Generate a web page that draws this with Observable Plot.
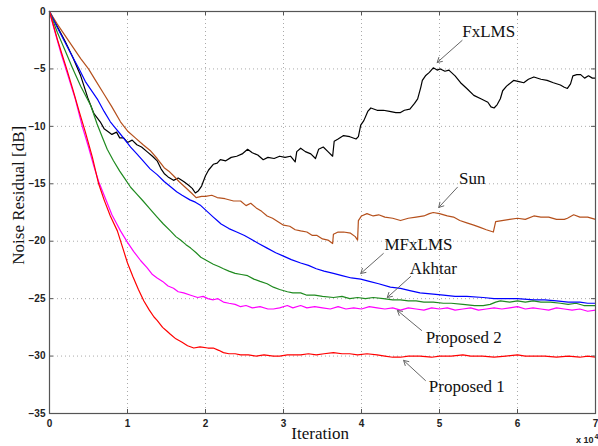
<!DOCTYPE html>
<html><head><meta charset="utf-8">
<script src="https://cdn.jsdelivr.net/npm/d3@7"></script>
<script src="https://cdn.jsdelivr.net/npm/@observablehq/plot@0.6"></script>
<style>body{margin:0;background:#fff} svg{display:block}</style>
</head><body><div id="chart"></div>
<script>
// Iteration (x 10^4) and noise residual (dB)
const fxlms = [[0,0],[0.1,-1.3],[0.2,-2.6],[0.3,-4.0],[0.4,-5.6],[0.49,-7.5],[0.57,-8.9],[0.65,-9.6],[0.7,-10.2],[0.74,-10.4],[0.8,-10.7],[0.86,-10.5],[0.9,-11.0],[0.95,-11.0],[1.0,-11.4],[1.06,-11.2],[1.12,-11.6],[1.18,-11.8],[1.25,-12.2],[1.32,-12.6],[1.38,-13.0],[1.43,-13.7],[1.47,-14.1],[1.52,-14.4],[1.59,-14.7],[1.65,-14.5],[1.72,-14.8],[1.78,-15.1],[1.83,-15.4],[1.87,-15.8],[1.91,-15.6],[1.95,-15.2],[2.0,-14.3],[2.04,-13.8],[2.1,-13.3],[2.15,-13.2],[2.19,-12.9],[2.26,-13.0],[2.33,-12.7],[2.4,-12.6],[2.47,-12.4],[2.54,-12.0],[2.6,-12.3],[2.67,-12.5],[2.74,-12.9],[2.8,-12.7],[2.88,-12.8],[2.95,-12.6],[3.02,-12.7],[3.09,-12.6],[3.15,-13.1],[3.17,-12.2],[3.22,-11.9],[3.28,-12.2],[3.35,-12.4],[3.41,-12.8],[3.45,-12.0],[3.51,-11.8],[3.57,-12.2],[3.63,-12.6],[3.65,-11.3],[3.7,-11.1],[3.77,-10.8],[3.85,-10.9],[3.93,-11.1],[3.96,-10.9],[3.99,-9.9],[4.03,-9.5],[4.08,-8.7],[4.12,-8.4],[4.2,-8.6],[4.28,-8.6],[4.36,-8.7],[4.44,-8.8],[4.5,-8.8],[4.55,-8.6],[4.62,-8.5],[4.68,-8.0],[4.72,-7.6],[4.76,-6.6],[4.78,-6.0],[4.82,-5.6],[4.87,-5.3],[4.92,-4.9],[4.97,-5.1],[5.01,-5.0],[5.07,-5.2],[5.12,-5.1],[5.2,-5.6],[5.27,-6.2],[5.35,-6.7],[5.44,-7.3],[5.53,-7.6],[5.62,-7.9],[5.66,-8.3],[5.7,-8.4],[5.74,-8.1],[5.78,-7.6],[5.81,-6.9],[5.86,-6.5],[5.95,-6.0],[6.02,-6.1],[6.08,-6.2],[6.14,-5.9],[6.21,-5.7],[6.3,-5.9],[6.38,-6.0],[6.46,-6.2],[6.55,-6.4],[6.6,-6.6],[6.64,-6.7],[6.68,-6.3],[6.71,-5.6],[6.76,-5.5],[6.81,-5.5],[6.86,-5.8],[6.91,-5.6],[6.96,-5.8],[7.0,-5.8]];
const sun = [[0,0],[0.1,-1.1],[0.2,-2.1],[0.3,-3.1],[0.4,-4.1],[0.5,-5.0],[0.6,-6.1],[0.7,-7.2],[0.8,-8.3],[0.91,-9.6],[1.0,-10.4],[1.1,-11.0],[1.2,-11.6],[1.29,-12.1],[1.38,-12.8],[1.47,-13.6],[1.53,-13.9],[1.59,-14.3],[1.66,-14.8],[1.74,-15.3],[1.82,-15.8],[1.88,-16.2],[1.95,-16.1],[2.0,-16.1],[2.08,-16.0],[2.15,-16.2],[2.25,-16.3],[2.36,-16.5],[2.45,-16.5],[2.52,-16.9],[2.58,-16.7],[2.65,-17.1],[2.72,-17.4],[2.79,-17.8],[2.86,-18.0],[2.93,-18.3],[3.0,-18.6],[3.08,-18.7],[3.15,-19.0],[3.22,-19.1],[3.3,-19.2],[3.37,-19.5],[3.43,-19.5],[3.5,-19.8],[3.57,-19.9],[3.63,-20.2],[3.64,-19.4],[3.7,-19.2],[3.77,-19.2],[3.86,-19.3],[3.92,-19.6],[3.95,-19.9],[3.96,-18.2],[4.0,-17.8],[4.07,-17.6],[4.15,-17.8],[4.22,-17.7],[4.3,-17.9],[4.4,-18.0],[4.5,-18.2],[4.6,-18.0],[4.7,-17.9],[4.8,-17.8],[4.87,-17.6],[4.92,-17.5],[5.0,-17.6],[5.1,-17.8],[5.18,-17.9],[5.26,-18.2],[5.35,-18.4],[5.44,-18.6],[5.52,-18.8],[5.6,-19.0],[5.69,-19.2],[5.72,-18.3],[5.8,-18.2],[5.9,-18.1],[6.0,-18.0],[6.1,-18.1],[6.21,-17.8],[6.3,-17.9],[6.4,-17.9],[6.5,-18.1],[6.6,-18.1],[6.64,-18.0],[6.72,-17.7],[6.8,-17.9],[6.9,-17.9],[7.0,-18.1]];
const mfxlms = [[0,0],[0.05,-0.7],[0.1,-1.4],[0.2,-2.7],[0.3,-4.0],[0.38,-5.0],[0.46,-6.1],[0.55,-7.0],[0.62,-7.7],[0.7,-8.7],[0.78,-9.6],[0.84,-10.1],[0.9,-10.6],[0.97,-11.2],[1.04,-11.8],[1.12,-12.4],[1.2,-13.0],[1.29,-13.7],[1.38,-14.2],[1.47,-14.8],[1.56,-15.3],[1.63,-15.7],[1.7,-16.0],[1.8,-16.4],[1.87,-16.6],[1.94,-16.9],[2.02,-17.4],[2.1,-17.9],[2.15,-18.2],[2.2,-18.5],[2.3,-18.9],[2.4,-19.2],[2.5,-19.5],[2.58,-19.8],[2.68,-20.2],[2.79,-20.6],[2.9,-21.0],[3.0,-21.3],[3.1,-21.6],[3.22,-21.9],[3.32,-22.1],[3.42,-22.4],[3.52,-22.6],[3.64,-22.8],[3.75,-23.0],[3.87,-23.2],[3.99,-23.3],[4.1,-23.5],[4.22,-23.7],[4.37,-24.0],[4.5,-24.1],[4.62,-24.3],[4.75,-24.5],[4.92,-24.6],[5.05,-24.7],[5.2,-24.8],[5.35,-24.8],[5.56,-24.9],[5.7,-25.0],[5.85,-25.0],[6.0,-25.0],[6.21,-25.1],[6.35,-25.1],[6.5,-25.2],[6.65,-25.3],[6.8,-25.3],[6.9,-25.4],[7.0,-25.4]];
const akhtar = [[0,0],[0.05,-0.9],[0.1,-1.8],[0.15,-2.6],[0.2,-3.4],[0.3,-5.0],[0.4,-6.5],[0.53,-8.2],[0.61,-9.8],[0.68,-11.0],[0.74,-12.0],[0.82,-13.0],[0.9,-13.9],[0.97,-14.6],[1.04,-15.3],[1.12,-15.9],[1.2,-16.5],[1.29,-17.2],[1.38,-17.9],[1.46,-18.5],[1.55,-19.1],[1.62,-19.6],[1.68,-19.9],[1.75,-20.3],[1.81,-20.6],[1.88,-21.0],[1.94,-21.4],[2.02,-21.7],[2.1,-22.0],[2.17,-22.2],[2.23,-22.4],[2.3,-22.6],[2.38,-22.8],[2.46,-22.9],[2.54,-23.0],[2.62,-23.3],[2.7,-23.5],[2.79,-23.7],[2.87,-24.0],[2.95,-24.2],[3.05,-24.4],[3.12,-24.5],[3.22,-24.5],[3.3,-24.7],[3.4,-24.7],[3.5,-24.8],[3.64,-24.9],[3.75,-24.8],[3.85,-25.0],[3.95,-24.9],[4.05,-25.0],[4.15,-24.9],[4.28,-25.0],[4.4,-25.1],[4.5,-25.1],[4.6,-25.2],[4.7,-25.2],[4.8,-25.3],[4.92,-25.3],[5.05,-25.4],[5.15,-25.4],[5.3,-25.5],[5.45,-25.6],[5.56,-25.6],[5.65,-25.5],[5.72,-25.3],[5.78,-25.2],[5.9,-25.3],[6.0,-25.2],[6.1,-25.3],[6.2,-25.2],[6.3,-25.3],[6.42,-25.3],[6.55,-25.4],[6.65,-25.5],[6.75,-25.4],[6.85,-25.6],[6.95,-25.6],[7.0,-25.6]];
const proposed2 = [[0,0],[0.05,-1.3],[0.1,-2.5],[0.15,-3.7],[0.21,-5.0],[0.27,-6.3],[0.33,-7.6],[0.42,-10.0],[0.5,-11.8],[0.57,-13.5],[0.63,-14.8],[0.7,-16.0],[0.8,-17.7],[0.91,-19.1],[1.0,-20.1],[1.08,-20.9],[1.17,-21.7],[1.25,-22.3],[1.32,-22.9],[1.38,-23.2],[1.45,-23.5],[1.52,-23.9],[1.59,-24.1],[1.65,-24.4],[1.72,-24.5],[1.81,-24.7],[1.9,-24.9],[1.97,-24.8],[2.03,-25.0],[2.1,-25.1],[2.16,-25.0],[2.23,-25.3],[2.3,-25.4],[2.38,-25.5],[2.45,-25.7],[2.52,-25.6],[2.6,-25.8],[2.7,-25.7],[2.8,-25.9],[2.87,-25.9],[2.95,-25.8],[3.05,-25.6],[3.12,-25.8],[3.22,-25.6],[3.3,-25.8],[3.4,-25.7],[3.5,-25.8],[3.6,-25.9],[3.7,-25.7],[3.8,-25.9],[3.9,-25.8],[4.0,-25.9],[4.1,-25.7],[4.2,-25.8],[4.3,-25.9],[4.4,-25.8],[4.5,-26.0],[4.6,-25.8],[4.7,-25.9],[4.8,-26.0],[4.9,-25.8],[5.0,-25.9],[5.1,-25.8],[5.2,-26.0],[5.3,-25.9],[5.4,-25.8],[5.5,-26.0],[5.6,-25.9],[5.7,-25.8],[5.8,-25.9],[5.9,-25.8],[6.0,-25.7],[6.1,-25.9],[6.2,-25.8],[6.3,-25.9],[6.4,-26.0],[6.5,-25.8],[6.6,-25.9],[6.7,-26.0],[6.8,-25.9],[6.9,-26.1],[7.0,-26.0]];
const proposed1 = [[0,0],[0.05,-1.2],[0.1,-2.4],[0.15,-3.5],[0.22,-5.0],[0.3,-6.8],[0.38,-8.7],[0.46,-10.5],[0.55,-12.7],[0.63,-15.0],[0.7,-16.4],[0.78,-17.8],[0.87,-19.1],[0.94,-20.6],[1.0,-21.9],[1.07,-23.1],[1.14,-24.2],[1.21,-25.2],[1.28,-26.0],[1.34,-26.6],[1.38,-26.9],[1.45,-27.5],[1.5,-27.8],[1.55,-28.1],[1.62,-28.5],[1.7,-28.8],[1.77,-29.1],[1.85,-29.3],[1.93,-29.2],[2.03,-29.3],[2.1,-29.3],[2.17,-29.5],[2.23,-29.7],[2.3,-29.8],[2.38,-29.8],[2.45,-29.9],[2.55,-29.9],[2.65,-30.0],[2.75,-29.9],[2.87,-30.0],[2.95,-30.0],[3.05,-29.9],[3.13,-29.9],[3.22,-29.9],[3.32,-29.8],[3.42,-29.9],[3.52,-29.8],[3.64,-29.7],[3.75,-29.8],[3.85,-29.8],[3.95,-29.9],[4.07,-29.8],[4.2,-29.9],[4.3,-30.0],[4.4,-30.1],[4.5,-30.1],[4.6,-30.0],[4.75,-30.0],[4.9,-30.1],[5.0,-30.0],[5.15,-30.0],[5.3,-29.9],[5.4,-30.0],[5.55,-30.0],[5.7,-30.1],[5.85,-30.0],[6.0,-29.9],[6.1,-30.0],[6.21,-30.0],[6.35,-30.0],[6.5,-30.1],[6.65,-30.0],[6.8,-30.1],[6.9,-30.0],[7.0,-30.1]];

const seriesNames = ["FxLMS", "Sun", "MFxLMS", "Akhtar", "Proposed 2", "Proposed 1"];
const seriesColors = ["#000000", "#b5501c", "#0000ff", "#1f8a1f", "#ff00ff", "#ff0000"];
const seriesData = [fxlms, sun, mfxlms, akhtar, proposed2, proposed1];

const xTicks = [0, 1, 2, 3, 4, 5, 6, 7];
const yTicks = [0, -5, -10, -15, -20, -25, -30, -35];

// annotation labels (data units) and arrows
const labelText = ["FxLMS", "Sun", "MFxLMS", "Akhtar", "Proposed 2", "Proposed 1"];
const labelX = [5.63, 5.42, 4.73, 4.92, 5.31, 5.35];
const labelY = [-1.74, -14.54, -20.29, -22.37, -28.38, -32.65];
const arrowX1 = [5.29, 5.23, 4.28, 4.63, 4.77, 4.82];
const arrowY1 = [-2.52, -15.3, -21.07, -23.07, -27.77, -32.13];
const arrowX2 = [4.97, 4.99, 3.99, 4.33, 4.46, 4.54];
const arrowY2 = [-4.44, -17.06, -22.81, -24.9, -26.03, -30.38];

const axisTitles = [
  {text: "Iteration", x: 3.47, y: -36.74, rotate: 0},
  {text: "Noise Residual [dB]", x: -0.4, y: -16.0, rotate: -90}
];
const exponentText = ["x 10", "4"];

const rows = seriesData.flatMap((pts, i) => pts.map(([x, y]) => ({name: seriesNames[i], x, y})));
const labels = labelText.map((t, i) => ({text: t, x: labelX[i], y: labelY[i]}));
const arrows = labelText.map((t, i) => ({x1: arrowX1[i], y1: arrowY1[i], x2: arrowX2[i], y2: arrowY2[i]}));
const fmt = d => String(d).replace("-", "\u2212");

const fw = 598 - 49 - 3, fh = 446 - 11 - 33;

const chart = Plot.plot({
  width: 598, height: 446,
  marginLeft: 49, marginRight: 3, marginTop: 11, marginBottom: 33,
  x: {domain: [0, 7]},
  y: {domain: [-35, 0]},
  color: {domain: seriesNames, range: seriesColors},
  style: {background: "#fff", overflow: "visible"},
  marks: [
    Plot.gridX(xTicks.slice(1, -1), {stroke: "#aaa", strokeOpacity: 1, strokeDasharray: "1,3"}),
    Plot.gridY(yTicks.slice(1, -1), {stroke: "#aaa", strokeOpacity: 1, strokeDasharray: "1,3"}),
    Plot.ruleX(xTicks, {stroke: "#555", insetTop: fh - 4}),
    Plot.ruleX(xTicks, {stroke: "#555", insetBottom: fh - 4}),
    Plot.ruleY(yTicks, {stroke: "#555", insetRight: fw - 4}),
    Plot.ruleY(yTicks, {stroke: "#555", insetLeft: fw - 4}),
    Plot.line(rows, {x: "x", y: "y", z: "name", stroke: "name", strokeWidth: 1.2}),
    Plot.frame({stroke: "#555", strokeWidth: 1.2}),
    Plot.axisX({ticks: xTicks, tickSize: 0, tickPadding: 6, tickFormat: fmt, label: null, fontFamily: "Liberation Sans", fontSize: 10, fontWeight: "bold", fill: "#222"}),
    Plot.axisY({ticks: yTicks, tickSize: 0, tickPadding: 4, tickFormat: fmt, label: null, fontFamily: "Liberation Sans", fontSize: 10, fontWeight: "bold", fill: "#222"}),
    Plot.arrow(arrows, {x1: "x1", y1: "y1", x2: "x2", y2: "y2", stroke: "#666", strokeWidth: 1, headLength: 8}),
    Plot.text(labels, {x: "x", y: "y", text: "text", fontFamily: "Liberation Serif", fontSize: 17, fill: "#111"}),
    Plot.text(axisTitles, {x: "x", y: "y", text: "text", rotate: "rotate", fontFamily: "Liberation Serif", fontSize: 17, fill: "#111", clip: false}),
    Plot.text([exponentText[0]], {x: () => 7, y: () => -35, text: d => d, dx: -2, dy: 27, textAnchor: "end", fontFamily: "Liberation Sans", fontSize: 9, fontWeight: "bold", fill: "#222"}),
    Plot.text([exponentText[1]], {x: () => 7, y: () => -35, text: d => d, dx: -1, dy: 23, textAnchor: "start", fontFamily: "Liberation Sans", fontSize: 7, fontWeight: "bold", fill: "#222"})
  ]
});
document.getElementById("chart").appendChild(chart);
</script>
</body></html>
